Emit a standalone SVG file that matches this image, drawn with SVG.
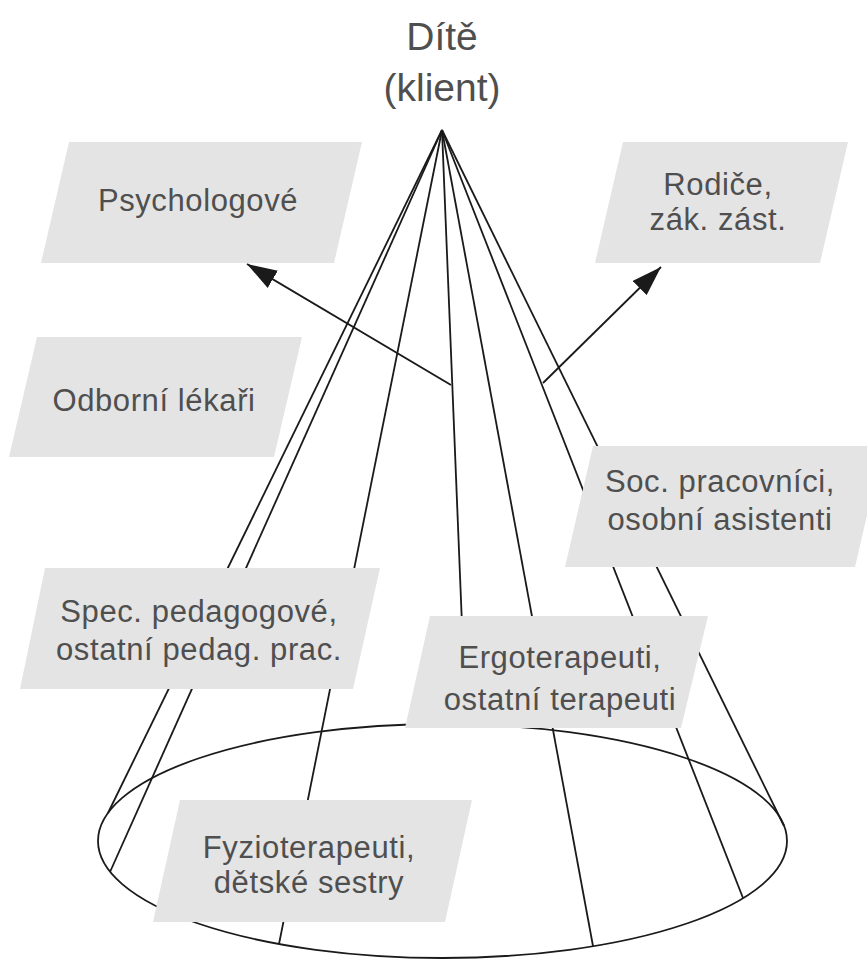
<svg xmlns="http://www.w3.org/2000/svg" width="867" height="960" viewBox="0 0 867 960">
<style>
.ln{stroke:#1a1a1a;stroke-width:1.8;fill:none}
.box{fill:#e4e4e4}
.t{font-family:"Liberation Sans",Arial,sans-serif;font-size:31px;fill:#4f4f4f;text-anchor:middle;letter-spacing:0.6px}
.title{font-family:"Liberation Sans",Arial,sans-serif;font-size:39px;fill:#4f4f4f;text-anchor:middle}
</style>
<defs>
<marker id="ah" markerUnits="userSpaceOnUse" markerWidth="30" markerHeight="20" refX="30" refY="10" orient="auto">
<path d="M0,0 L30,10 L0,20 z" fill="#1a1a1a"/>
</marker>
</defs>
<rect width="867" height="960" fill="#ffffff"/>
<g id="title">
<text class="title" x="442" y="50">Dítě</text>
<text class="title" x="442" y="101">(klient)</text>
</g>
<g id="connectors">
<ellipse class="ln" cx="442.5" cy="841" rx="344.5" ry="117"/>
<line class="ln" x1="442" y1="130" x2="108" y2="813"/>
<line class="ln" x1="442" y1="130" x2="110" y2="872"/>
<line class="ln" x1="442" y1="130" x2="279" y2="944"/>
<line class="ln" x1="442" y1="130" x2="466" y2="724"/>
<line class="ln" x1="442" y1="130" x2="593" y2="946"/>
<line class="ln" x1="442" y1="130" x2="743" y2="898"/>
<line class="ln" x1="442" y1="130" x2="784" y2="826"/>
<line class="ln" x1="451" y1="385" x2="247" y2="264" marker-end="url(#ah)"/>
<line class="ln" x1="543" y1="383" x2="661" y2="267" marker-end="url(#ah)"/>
</g>
<g id="psychologove">
<polygon class="box" points="69,142 362,142 334,263 41,263"/>
<text class="t" x="198" y="211">Psychologové</text>
</g>
<g id="rodice">
<polygon class="box" points="623,142 848,142 820,263 595,263"/>
<text class="t" x="718" y="195">Rodiče,</text>
<text class="t" x="718" y="230">zák. zást.</text>
</g>
<g id="odborni">
<polygon class="box" points="37,337 302,337 274,457 9,457"/>
<text class="t" x="154" y="411">Odborní lékaři</text>
</g>
<g id="soc">
<polygon class="box" points="593,446 883,446 855,567 565,567"/>
<text class="t" x="720" y="492">Soc. pracovníci,</text>
<text class="t" x="720" y="530">osobní asistenti</text>
</g>
<g id="spec">
<polygon class="box" points="45,568 380,568 353,689 20,689"/>
<text class="t" x="199" y="622">Spec. pedagogové,</text>
<text class="t" x="199" y="660">ostatní pedag. prac.</text>
</g>
<g id="ergo">
<polygon class="box" points="430,616 708,616 681,728 405,728"/>
<text class="t" x="560" y="668">Ergoterapeuti,</text>
<text class="t" x="560" y="710">ostatní terapeuti</text>
</g>
<g id="fyzio">
<polygon class="box" points="180,800 472,800 445,922 153,922"/>
<text class="t" x="309" y="858">Fyzioterapeuti,</text>
<text class="t" x="309" y="893">dětské sestry</text>
</g>
</svg>
